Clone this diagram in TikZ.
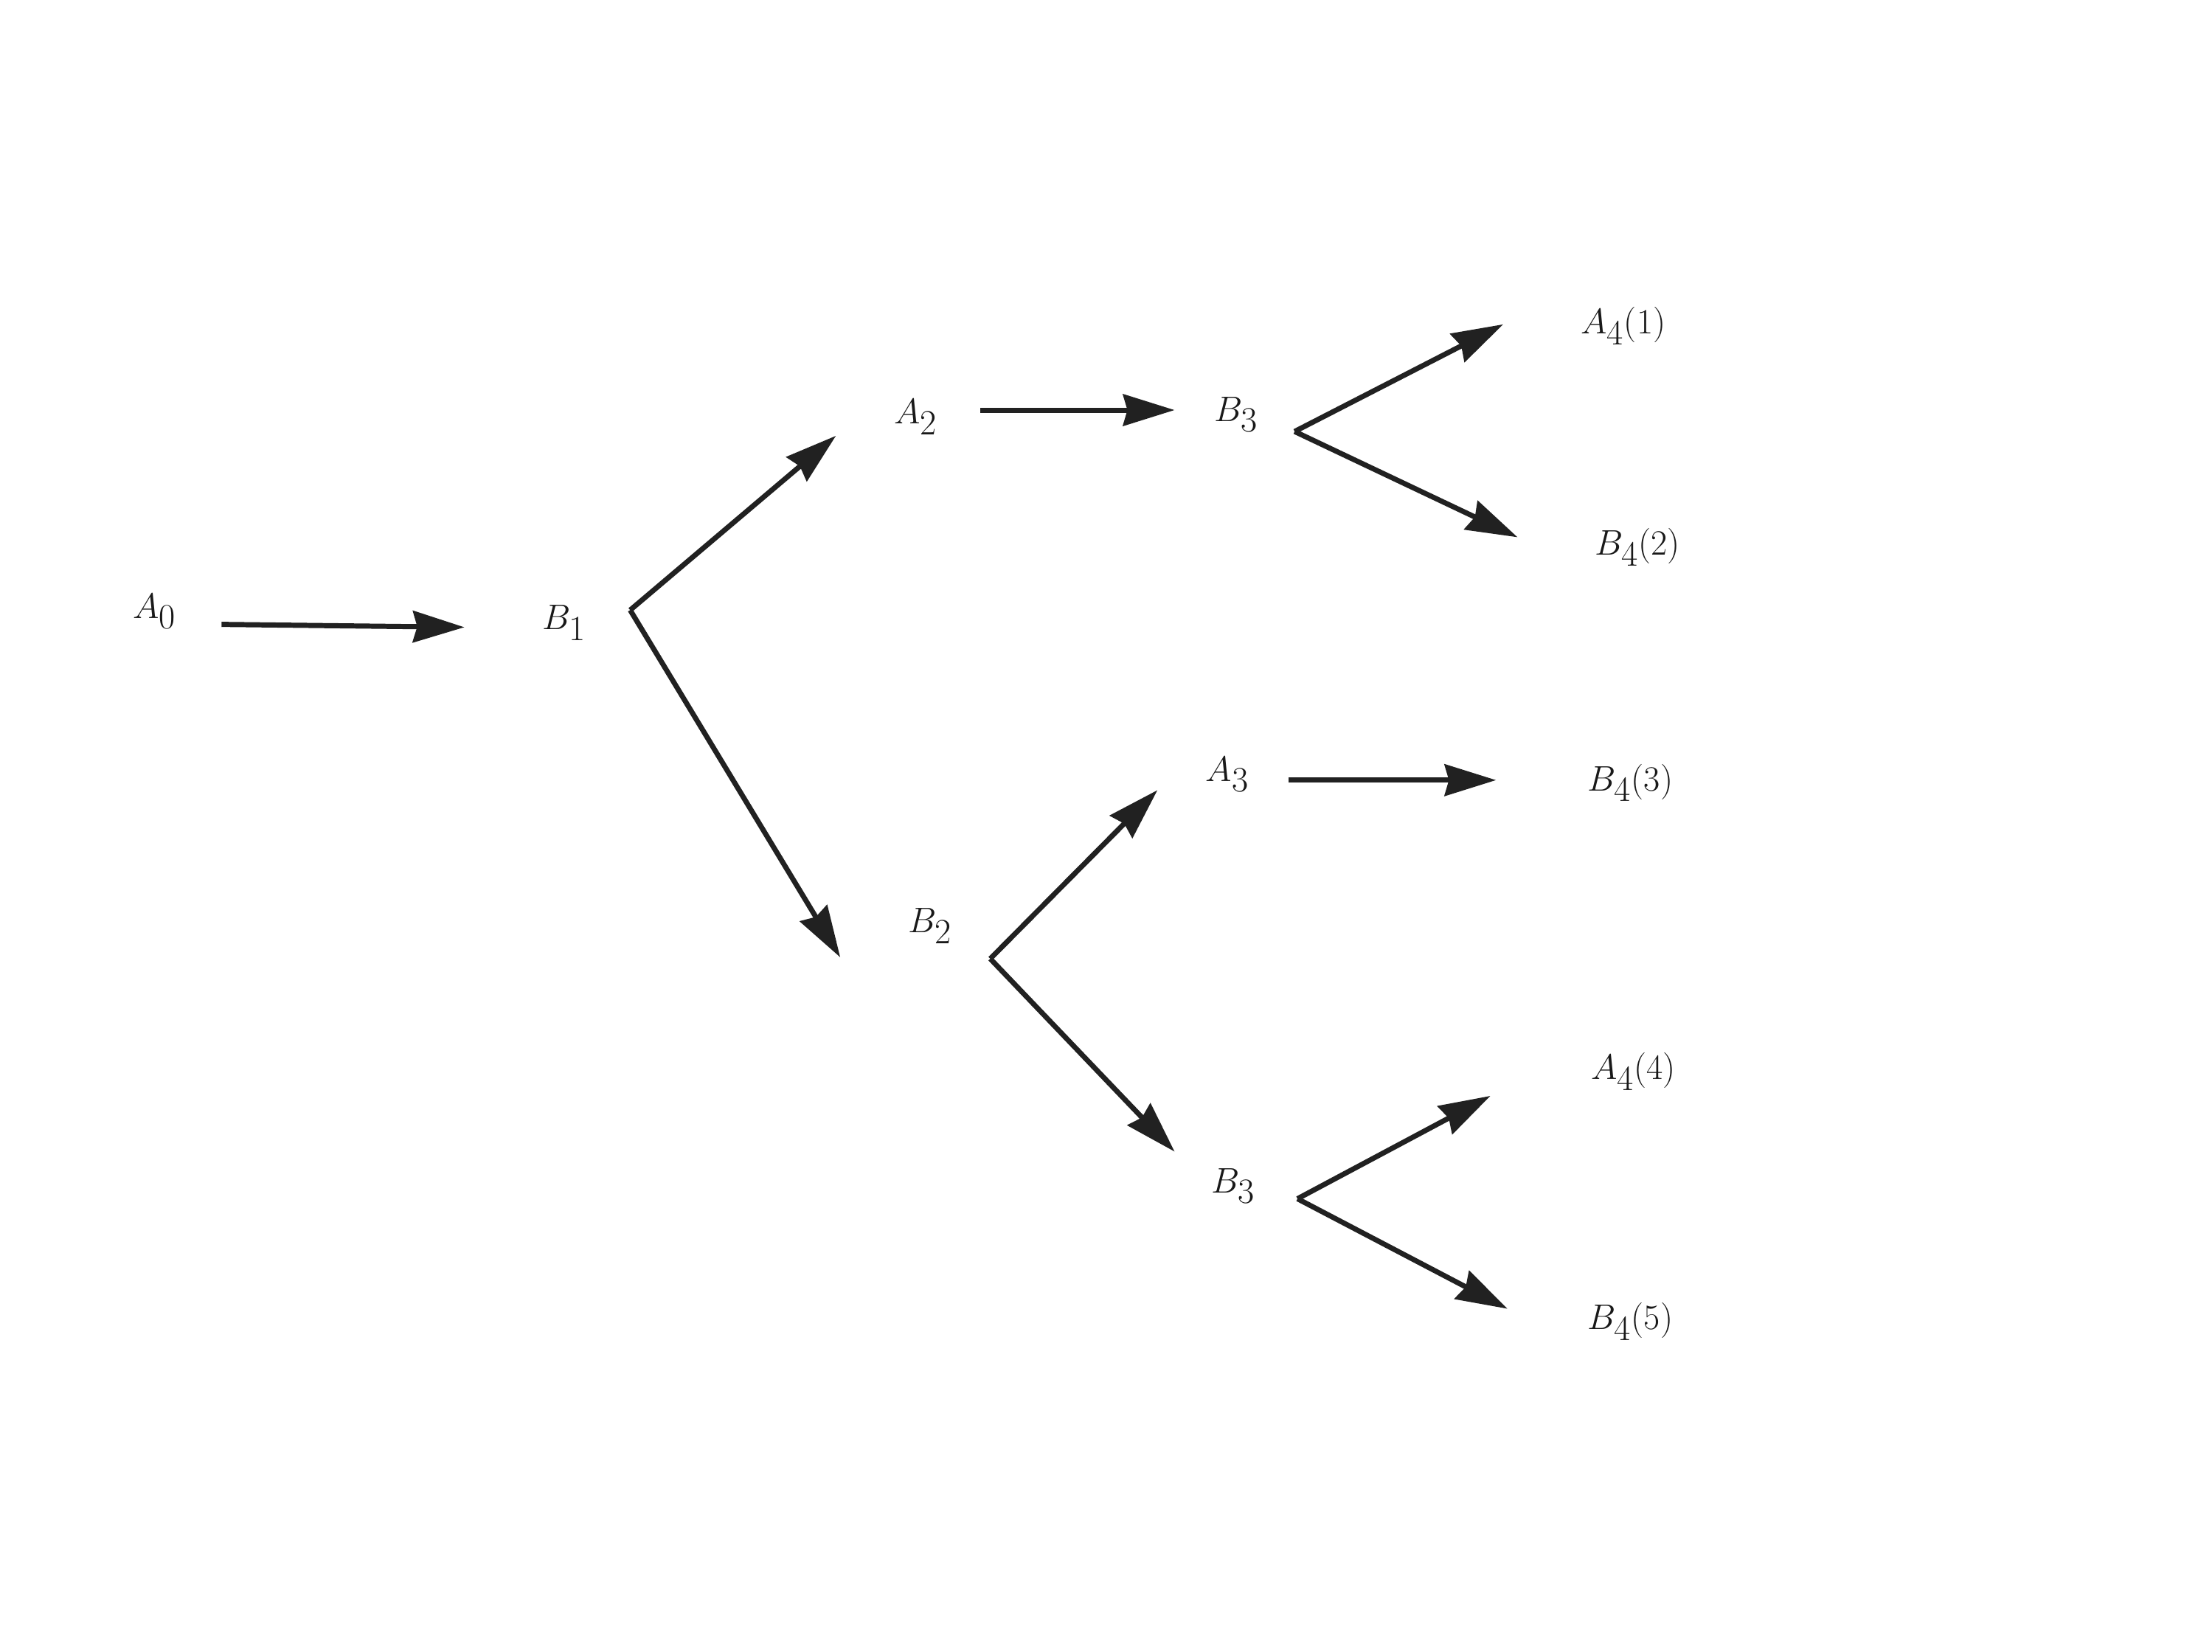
\documentclass[tikz,border=0pt]{standalone}
\usetikzlibrary{arrows.meta}
\begin{document}
\begin{tikzpicture}[x=1pt,y=-1pt,
  lbl/.style={font=\fontsize{52}{56}\selectfont, text=black!90, inner sep=0pt},
  arr/.style={line width=3.6pt, draw=black!87, -{Stealth[length=36pt,width=22pt,inset=3pt]}}]
\useasboundingbox (0,0) rectangle (1548,1156);
\node[lbl] (a0) at (108,428) {$A_0$};
\node[lbl] (b1) at (395,436) {$B_1$};
\node[lbl] (a2) at (641,292) {$A_2$};
\node[lbl] (b3t) at (865,290) {$B_3$};
\node[lbl] (a41) at (1136,228) {$A_4(1)$};
\node[lbl] (b42) at (1146,383) {$B_4(2)$};
\node[lbl] (a3) at (859,542) {$A_3$};
\node[lbl] (b43) at (1141,548) {$B_4(3)$};
\node[lbl] (b2) at (651,648) {$B_2$};
\node[lbl] (b3b) at (863,830) {$B_3$};
\node[lbl] (a44) at (1143,750) {$A_4(4)$};
\node[lbl] (b45) at (1141,925) {$B_4(5)$};
\coordinate (a0s) at (155,437); \coordinate (a0e) at (325,439);
\coordinate (v1) at (441,427); \coordinate (v1a) at (585,305); \coordinate (v1b) at (588,670);
\coordinate (a2s) at (686,287); \coordinate (a2e) at (822,287);
\coordinate (v3) at (906,302); \coordinate (v3a) at (1052,227); \coordinate (v3b) at (1062,376);
\coordinate (v2) at (693,671); \coordinate (v2a) at (810,553); \coordinate (v2b) at (822,806);
\coordinate (a3s) at (902,546); \coordinate (a3e) at (1047,546);
\coordinate (v4) at (908,839); \coordinate (v4a) at (1043,767); \coordinate (v4b) at (1055,916);
\draw[arr] (a0s) -- (a0e);
\draw[arr] (v1) -- (v1a); \draw[arr] (v1) -- (v1b);
\draw[arr] (a2s) -- (a2e);
\draw[arr] (v3) -- (v3a); \draw[arr] (v3) -- (v3b);
\draw[arr] (v2) -- (v2a); \draw[arr] (v2) -- (v2b);
\draw[arr] (a3s) -- (a3e);
\draw[arr] (v4) -- (v4a); \draw[arr] (v4) -- (v4b);
\end{tikzpicture}
\end{document}
